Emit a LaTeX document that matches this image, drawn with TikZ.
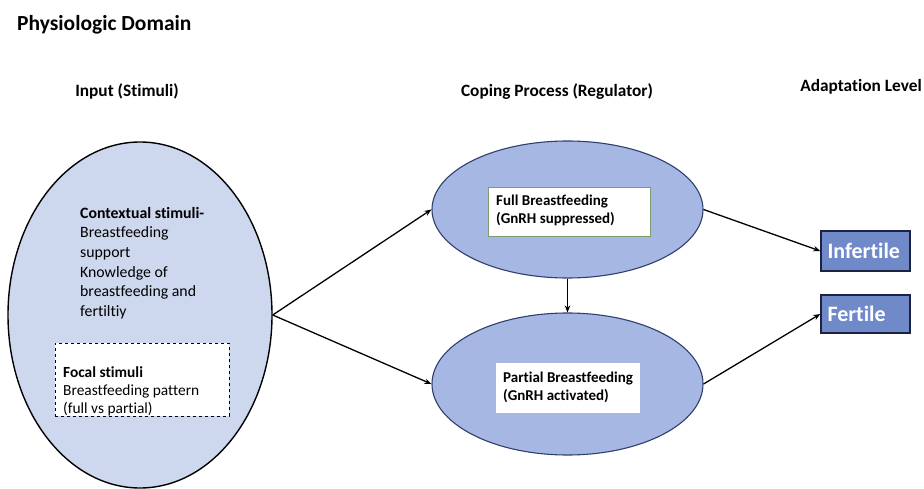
\documentclass[tikz,border=0pt]{standalone}
\usepackage{fontspec}
\setmainfont{Carlito}[Ligatures=NoCommon]
\usetikzlibrary{shapes.geometric,arrows.meta}
\definecolor{inputfill}{HTML}{CDD8EE}
\definecolor{copefill}{HTML}{A5B7E2}
\definecolor{copedraw}{HTML}{2F3F6E}
\definecolor{outfill}{HTML}{6F89C9}
\definecolor{outdraw}{HTML}{1C2342}
\definecolor{greenedge}{HTML}{7F9C6E}
\tikzset{
  heading/.style={font=\bfseries\fontsize{17.3}{20}\selectfont, anchor=base, inner sep=0},
  inellipse/.style={ellipse, draw=black, line width=1.4pt, fill=inputfill, inner sep=0},
  copeellipse/.style={ellipse, draw=copedraw, line width=1.1pt, fill=copefill, inner sep=0},
  outbox/.style={rectangle, draw=outdraw, line width=1.4pt, fill=outfill, inner sep=0,
     text=white, font=\bfseries\fontsize{22}{26}\selectfont, align=left, text width=76pt},
  bodytext/.style={font=\fontsize{15.8}{19.6}\selectfont, align=left, inner sep=0},
  boxtext/.style={font=\bfseries\fontsize{15}{17.5}\selectfont, align=left, inner sep=0},
  arr/.style={draw=black, line width=1.3pt, -{Stealth[length=7pt,width=5.5pt]}}
}
\begin{document}
\begin{tikzpicture}[x=1pt,y=-1pt]
\useasboundingbox (0,0) rectangle (924,489);
% title and headings
\node[font=\bfseries\fontsize{21.5}{25}\selectfont, anchor=base west, inner sep=0] (title) at (17,31) {Physiologic Domain};
\node[heading] (hin) at (127,97) {Input (Stimuli)};
\node[heading] (hcope) at (557,97) {Coping Process (Regulator)};
\node[heading] (hadapt) at (861,92) {Adaptation Level};
% input ellipse
\node[inellipse, minimum width=264pt, minimum height=346pt] (input) at (140,315) {};
\node[bodytext, anchor=north west] (ctx) at (80,207) {\textbf{Contextual stimuli-}\\Breastfeeding\\support\\Knowledge of\\breastfeeding and\\fertiltiy};
\node[rectangle, draw=black, dashed, line width=0.6pt, fill=white, minimum width=174pt, minimum height=73pt, inner sep=0] (focal) at (142,379.5) {};
\node[bodytext, font=\fontsize{15.4}{18}\selectfont, anchor=north west] (focaltext) at (63,366) {\textbf{Focal stimuli}\\Breastfeeding pattern\\(full vs partial)};
% coping ellipses
\node[copeellipse, minimum width=271pt, minimum height=137pt] (full) at (567.5,209.5) {};
\node[rectangle, draw=greenedge, line width=0.6pt, fill=white, minimum width=162pt, minimum height=49pt, inner sep=0] (fullbox) at (569,211.5) {};
\node[boxtext, anchor=north west] (fulltext) at (496,195) {Full Breastfeeding\\(GnRH suppressed)};
\node[copeellipse, minimum width=271pt, minimum height=142pt] (partial) at (567.5,384) {};
\node[rectangle, fill=white, minimum width=144pt, minimum height=50pt, inner sep=0] (partialbox) at (568,388) {};
\node[boxtext, anchor=north west] (partialtext) at (503,372) {Partial Breastfeeding\\(GnRH activated)};
% outcomes
\node[outbox, minimum width=89pt, minimum height=40pt] (infertile) at (865.5,251) {Infertile};
\node[outbox, minimum width=89pt, minimum height=38pt] (fertile) at (865.5,314) {Fertile};
% connectors
\draw[arr] (input.east) -- (full.west);
\draw[arr] (input.east) -- (partial.west);
\draw[arr] (full.south) -- (partial.north);
\draw[arr] (full.east) -- (infertile.west);
\draw[arr] (partial.east) -- (fertile.west);
\end{tikzpicture}
\end{document}
